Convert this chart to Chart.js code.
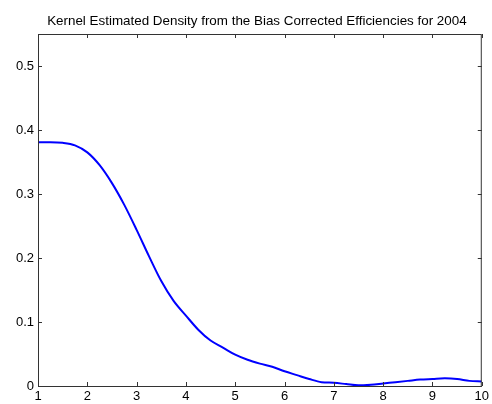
<!DOCTYPE html>
<html>
<head>
<meta charset="utf-8">
<script src="https://cdn.jsdelivr.net/npm/chart.js@4"></script>
<style>
  body { margin: 0; background: #fff; }
  canvas { display: block; }
</style>
</head>
<body>
<canvas id="densityChart" width="492" height="404"></canvas>
<script>
// efficiency grid and estimated density
const efficiency = [1, 1.25, 1.5, 1.75, 2, 2.25, 2.5, 2.75, 3, 3.25, 3.5, 3.75, 4, 4.25, 4.5, 4.75,
    5, 5.25, 5.5, 5.75, 6, 6.25, 6.5, 6.75, 7, 7.25, 7.5, 7.75, 8, 8.25, 8.5, 8.75, 9, 9.25, 9.5, 9.75, 10];
const density = [0.381, 0.381, 0.380, 0.376, 0.365, 0.345, 0.317, 0.283, 0.244, 0.203, 0.164, 0.133,
    0.110, 0.088, 0.071, 0.060, 0.049, 0.041, 0.035, 0.030, 0.023, 0.017, 0.011, 0.006, 0.005, 0.003,
    0.001, 0.002, 0.004, 0.006, 0.008, 0.010, 0.011, 0.012, 0.011, 0.008, 0.007];
const xTicks = [1, 2, 3, 4, 5, 6, 7, 8, 9, 10];
const yTicks = [0, 0.1, 0.2, 0.3, 0.4, 0.5];
const titleText = 'Kernel Estimated Density from the Bias Corrected Efficiencies for 2004';

const axisColor = '#333333';
const fontFamily = '"Liberation Sans", Arial, sans-serif';

// matlab style box with inward ticks and a title centred over the axes
const matlabBox = {
    id: 'matlabBox',
    afterDraw(chart) {
        const ctx = chart.ctx;
        const a = chart.chartArea;
        const xs = chart.scales.x, ys = chart.scales.y;
        const tl = 4;
        ctx.save();
        ctx.strokeStyle = axisColor;
        ctx.lineWidth = 1;
        ctx.strokeRect(a.left + 0.5, a.top + 0.5, a.right - a.left - 1, a.bottom - a.top);
        ctx.beginPath();
        xTicks.forEach(v => {
            const px = Math.round(xs.getPixelForValue(v)) + 0.5;
            ctx.moveTo(px, a.bottom); ctx.lineTo(px, a.bottom - tl);
            ctx.moveTo(px, a.top); ctx.lineTo(px, a.top + tl);
        });
        yTicks.forEach(v => {
            const py = Math.round(ys.getPixelForValue(v)) + 0.5;
            ctx.moveTo(a.left, py); ctx.lineTo(a.left + tl, py);
            ctx.moveTo(a.right, py); ctx.lineTo(a.right - tl, py);
        });
        ctx.stroke();

        ctx.fillStyle = '#000';
        ctx.font = '13.4px ' + fontFamily;
        ctx.textAlign = 'center';
        ctx.textBaseline = 'alphabetic';
        ctx.fillText(titleText, (a.left + a.right) / 2 - 3, 25);
        ctx.restore();
    }
};

new Chart(document.getElementById('densityChart').getContext('2d'), {
    type: 'line',
    data: {
        datasets: [{
            data: efficiency.map((x, i) => ({ x: x, y: density[i] })),
            borderColor: '#0000ff',
            borderWidth: 2,
            pointRadius: 0,
            fill: false,
            cubicInterpolationMode: 'monotone'
        }]
    },
    options: {
        responsive: false,
        animation: false,
        layout: { padding: { top: 34, right: 6, left: 0, bottom: 0 } },
        scales: {
            x: {
                type: 'linear',
                min: 1,
                max: 10,
                afterBuildTicks: s => { s.ticks = xTicks.map(v => ({ value: v })); },
                afterFit: s => { s.height = 18; },
                grid: { display: false, drawTicks: false },
                border: { display: false },
                ticks: {
                    color: '#000',
                    padding: 3,
                    maxRotation: 0,
                    font: { family: fontFamily, size: 13 },
                    callback: v => String(v)
                }
            },
            y: {
                min: 0,
                max: 0.55,
                afterBuildTicks: s => { s.ticks = yTicks.map(v => ({ value: v })); },
                afterFit: s => { s.width = 38; },
                grid: { display: false, drawTicks: false },
                border: { display: false },
                ticks: {
                    color: '#000',
                    padding: 4,
                    font: { family: fontFamily, size: 13 },
                    callback: v => v === 0 ? '0' : v.toFixed(1)
                }
            }
        },
        plugins: {
            legend: { display: false },
            tooltip: { enabled: false }
        }
    },
    plugins: [matlabBox]
});
</script>
</body>
</html>
